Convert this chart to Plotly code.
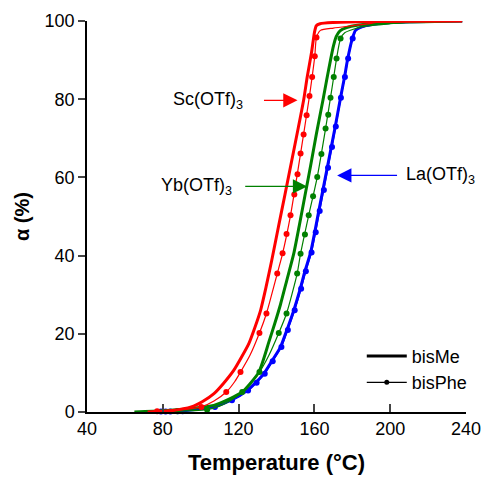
import plotly.graph_objects as go

# ---------------- data ----------------
# Sc(OTf)3, bisMe
sc_me_T = [72, 85, 95, 101, 107, 112, 117.5, 121.5, 125.4, 128.5, 131.6, 134.5, 137.5, 141, 144.5, 148, 151.5, 154.4, 156.2, 158.5, 160, 161, 163, 170, 190, 238]
sc_me_a = [0, 0.4, 1.3, 2.7, 4.7, 7.3, 10.7, 14, 17.5, 21.5, 26, 32, 38.8, 47.3, 55.7, 64.2, 72.7, 80, 85.7, 92, 97, 98.8, 99.3, 99.6, 99.9, 100]
# Sc(OTf)3, bisPhe
sc_ph_T = [75, 85, 100.3, 107, 113.5, 118, 121, 126, 131, 134.7, 140.4, 143, 147.4, 152.7, 157.4, 158.8, 160.2, 161.1, 163.2, 170, 180, 190, 198, 212.8, 238]
sc_ph_a = [0, 0.3, 1.3, 2.8, 5.1, 7.8, 10.2, 14.5, 20.2, 25.2, 35.4, 40.1, 50.3, 66.1, 80.8, 85.7, 91, 95.8, 97.6, 98.2, 98.8, 99.4, 100, 100.2, 100.2]
sc_ph_mT = [77, 100.3, 113.5, 121, 131, 134.7, 140.4, 143.2, 145.3, 147.4, 149.4, 151.1, 152.7, 154.3, 155.9, 157.4, 158.8, 160.2, 161.1, 212.8]
sc_ph_ma = [0.2, 1.3, 5.1, 10.2, 20.2, 25.2, 35.4, 40.6, 45.5, 50.3, 55.6, 60.8, 66.1, 71.0, 75.9, 80.8, 85.7, 91.0, 95.8, 100.2]

# Yb(OTf)3, bisMe
yb_me_T = [65, 80, 95, 106.9, 115, 121.9, 126.5, 130.7, 133.5, 135.9, 139, 142.1, 145.5, 149.1, 152, 155, 158, 161, 164.6, 166.5, 168.5, 170, 171.5, 173.5, 177, 182.6, 200, 238]
yb_me_a = [0, 0.3, 0.9, 1.7, 3.3, 5.1, 7.5, 10.2, 14, 17.8, 22.5, 27.5, 33.8, 40.5, 47.6, 55.3, 63, 71, 80, 85, 90, 93.5, 96, 97.5, 98.3, 98.9, 99.6, 100]
# Yb(OTf)3, bisPhe
yb_ph_T = [70, 87.6, 103.4, 110, 116, 121.9, 127, 131, 136, 141.2, 145.3, 150.9, 152.7, 157, 161.5, 165.9, 168.5, 170.2, 171.7, 173.8, 176, 185, 200, 222.2, 238]
yb_ph_a = [0, 0.2, 0.6, 1.5, 3, 5.1, 7.8, 10.2, 14.5, 20.2, 25.2, 35.4, 40.5, 50.3, 60.1, 72.5, 80.4, 85.7, 90.4, 95.5, 97, 98.5, 99.3, 100, 100]
yb_ph_mT = [87.6, 103.4, 121.9, 131.0, 141.2, 145.3, 150.9, 152.7, 155.0, 157.0, 159.3, 161.5, 163.7, 165.9, 167.3, 168.5, 170.2, 171.7, 173.8, 222.2]
yb_ph_ma = [0.2, 0.6, 5.1, 10.2, 20.2, 25.2, 35.4, 40.5, 45.4, 50.3, 55.2, 60.1, 66.0, 72.5, 76.0, 80.4, 85.7, 90.4, 95.5, 100.2]

# La(OTf)3, bisMe
la_me_T = [78, 90, 100, 106.9, 116, 124.5, 129, 133.3, 137.5, 142.1, 145.5, 149.1, 152.5, 155, 158, 162.3, 166.8, 171, 173.8, 175.9, 177.6, 180, 181.7, 185, 195, 210, 238]
la_me_a = [0, 0.3, 0.8, 1.3, 3, 5.5, 7.5, 9.8, 13, 16.6, 21, 26, 31.5, 36, 40.8, 51.4, 62.5, 73, 80.4, 85.7, 90.4, 95.5, 97.6, 98.5, 99.4, 99.8, 100]
# La(OTf)3, bisPhe
la_ph_T = [79, 90.5, 100, 107.5, 116.5, 125, 129.5, 133.8, 138, 142.6, 146, 149.6, 153, 155.5, 158.5, 162.8, 167.2, 171.3, 174, 176.1, 177.8, 180.2, 182, 186, 200, 228, 238]
la_ph_a = [0, 0.2, 0.7, 1.3, 3, 5.5, 7.5, 9.8, 13, 16.6, 21, 26, 31.5, 36, 40.8, 51.4, 62.5, 73, 80.4, 85.7, 90.4, 95.5, 97.6, 98.5, 99.5, 100.2, 100.2]
la_ph_mT = [79, 81.5, 84, 88, 90.5, 107.5, 116.5, 125, 129.5, 133.8, 138, 142.6, 146, 149.6, 153, 155.5, 158.5, 160.7, 162.8, 165, 167.2, 169.3, 171.3, 174, 176.1, 177.8, 180.2, 228]
la_ph_ma = [0.1, 0.1, 0.1, 0.2, 0.2, 1.3, 3, 5.5, 7.5, 9.8, 13, 16.6, 21, 26, 31.5, 36, 40.8, 46, 51.4, 56.8, 62.5, 67.8, 73, 80.4, 85.7, 90.4, 95.5, 100.2]

x_ticks = [40, 80, 120, 160, 200, 240]
y_ticks = [0, 20, 40, 60, 80, 100]

RED, GREEN, BLUE = "#ff0000", "#008000", "#0000ff"
FONT = "Liberation Sans, Arial, sans-serif"

fig = go.Figure()

def me(T, a, c):
    fig.add_trace(go.Scatter(x=T, y=a, mode="lines", line=dict(color=c, width=3, shape="spline", smoothing=0.6),
                             showlegend=False, cliponaxis=False, hoverinfo="skip"))

def ph(T, a, mT, ma, c):
    fig.add_trace(go.Scatter(x=T, y=a, mode="lines", line=dict(color=c, width=1.2, shape="spline", smoothing=0.6),
                             showlegend=False, cliponaxis=False, hoverinfo="skip"))
    fig.add_trace(go.Scatter(x=mT, y=ma, mode="markers", marker=dict(color=c, size=6),
                             showlegend=False, cliponaxis=False, hoverinfo="skip"))

ph(la_ph_T, la_ph_a, la_ph_mT, la_ph_ma, BLUE)
me(la_me_T, la_me_a, BLUE)
ph(yb_ph_T, yb_ph_a, yb_ph_mT, yb_ph_ma, GREEN)
me(yb_me_T, yb_me_a, GREEN)
ph(sc_ph_T, sc_ph_a, sc_ph_mT, sc_ph_ma, RED)
me(sc_me_T, sc_me_a, RED)

# legend entries
fig.add_trace(go.Scatter(x=[None], y=[None], mode="lines", name="bisMe", line=dict(color="black", width=3)))
fig.add_trace(go.Scatter(x=[None], y=[None], mode="lines+markers", name="bisPhe",
                         line=dict(color="black", width=1.2), marker=dict(color="black", size=5)))

# annotations: labels and arrows
labels = [
    ("Sc(OTf)<sub>3</sub>", 104, 79.7, RED, 132.6, 151.1),
    ("Yb(OTf)<sub>3</sub>", 97.8, 57.7, GREEN, 122.7, 156.2),
    ("La(OTf)<sub>3</sub>", 226.5, 60.5, BLUE, 204.4, 172.0),
]
for txt, tx, ty, c, tail, tip in labels:
    fig.add_annotation(x=tx, y=ty, text=txt, showarrow=False, font=dict(family=FONT, size=18, color="black"),
                       xref="x", yref="y", yshift=0)
    fig.add_annotation(x=tip, y=ty, ax=tail, ay=ty, axref="x", ayref="y", xref="x", yref="y", text="",
                       showarrow=True, arrowhead=2, arrowsize=2.2, arrowwidth=1.3, arrowcolor=c, standoff=0)

fig.update_layout(
    width=482, height=477,
    margin=dict(l=87, r=16, t=21, b=65, autoexpand=False),
    paper_bgcolor="white", plot_bgcolor="white",
    font=dict(family=FONT, size=18, color="black"),
    legend=dict(x=0.725, y=0.19, xanchor="left", yanchor="top", bgcolor="rgba(0,0,0,0)",
                font=dict(family=FONT, size=18), itemwidth=40, tracegroupgap=0),
    showlegend=True,
)
fig.update_xaxes(range=[40, 240], tickvals=x_ticks, ticks="inside", ticklen=8, tickwidth=1.5,
                 showline=True, linecolor="black", linewidth=1.5, showgrid=False, zeroline=False, automargin=False,
                 title=dict(text="<b>Temperature (°C)</b>", font=dict(family=FONT, size=22), standoff=16),
                 tickfont=dict(family=FONT, size=18))
fig.update_yaxes(range=[0, 100], tickvals=y_ticks, ticks="outside", ticklen=7, tickwidth=1.5,
                 showline=True, linecolor="black", linewidth=1.5, showgrid=False, zeroline=False, automargin=False,
                 title=dict(text="<b>α (%)</b>", font=dict(family=FONT, size=20), standoff=10),
                 tickfont=dict(family=FONT, size=18))

fig.write_html("out.html")
